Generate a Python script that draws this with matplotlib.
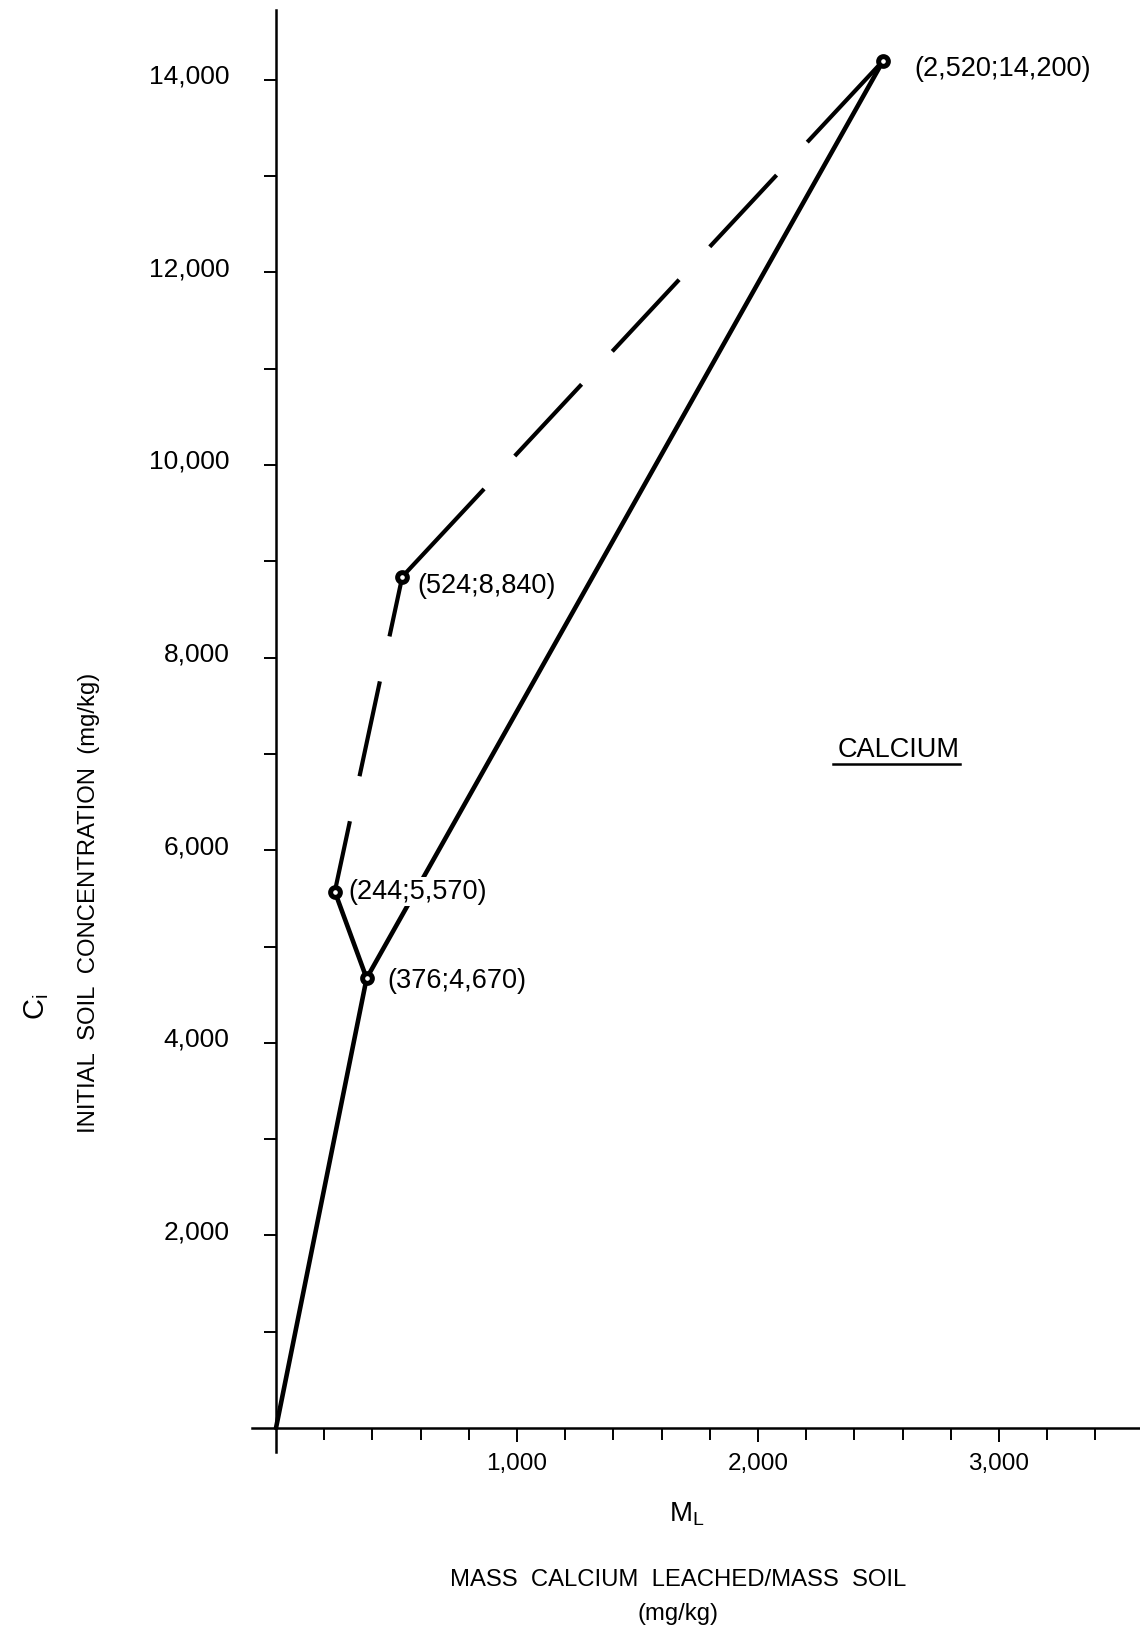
import numpy as np
import matplotlib
matplotlib.use("Agg")
import matplotlib.pyplot as plt
import matplotlib.transforms as mtransforms

# Calcium: mass leached vs. initial soil concentration (mg/kg)
ml = [0, 376, 244, 524, 2520]
ci = [0, 4670, 5570, 8840, 14200]

# index paths through the points above
solid_paths = [[0, 1, 4], [1, 2]]
lower_dash = [2, 3]
upper_dash = [3, 4]
labelled = [4, 3, 2, 1]
label_offsets = {4: (22, -6), 3: (11, -7), 2: (10, 0), 1: (15, -2)}  # points

y_major = [2000, 4000, 6000, 8000, 10000, 12000, 14000]
y_minor = list(range(1000, 14001, 1000))
x_major = [1000, 2000, 3000]
x_minor = list(range(200, 3601, 200))

plt.rcParams['font.family'] = ['Liberation Sans', 'DejaVu Sans']
plt.rcParams['mathtext.fontset'] = 'custom'
plt.rcParams['mathtext.rm'] = 'Liberation Sans'
plt.rcParams['mathtext.it'] = 'Liberation Sans'
plt.rcParams['lines.scale_dashes'] = False

W, H = 1140, 1637
fig = plt.figure(figsize=(W / 100, H / 100), dpi=100)

# axes placed so x=0 sits at 276 px and y=0 at 1428 px from the top
x0_px, y0_px = 276, 1428
xs, ys = 0.241, 0.0963          # px per data unit
xlim = (-100, 3610)
ylim = (-250, 14720)
left = x0_px + xlim[0] * xs
right = x0_px + xlim[1] * xs
bottom = y0_px - ylim[0] * ys
top = y0_px - ylim[1] * ys
ax = fig.add_axes([left / W, 1 - bottom / H, (right - left) / W, (bottom - top) / H])
ax.set_xlim(*xlim)
ax.set_ylim(*ylim)

for s in ['top', 'right']:
    ax.spines[s].set_visible(False)
ax.spines['left'].set_position(('data', 0))
ax.spines['bottom'].set_position(('data', 0))
for s in ['left', 'bottom']:
    ax.spines[s].set_linewidth(1.8)

ax.set_xticks(x_major)
ax.set_xticks(x_minor, minor=True)
ax.set_xticklabels([f"{v:,}" for v in x_major])
ax.set_yticks(y_major)
ax.set_yticks(y_minor, minor=True)
ax.set_yticklabels([f"{v:,}" for v in y_major])
ax.tick_params(axis='x', which='major', direction='out', length=10, width=1.4,
               pad=8, labelsize=17.5)
ax.tick_params(axis='x', which='minor', direction='out', length=8.6, width=1.4)
ax.tick_params(axis='y', which='both', direction='out', length=8.6, width=1.4)
ax.tick_params(axis='y', which='major', pad=25, labelsize=19)

shift = mtransforms.ScaledTranslation(0, 4 / 72, fig.dpi_scale_trans)
for lab in ax.get_yticklabels():
    lab.set_transform(lab.get_transform() + shift)

ml_a = np.array(ml)
ci_a = np.array(ci)

for p in solid_paths:
    ax.plot(ml_a[p], ci_a[p], color='black', lw=3.3, solid_capstyle='round',
            solid_joinstyle='round', zorder=2)

px2pt = 0.72
ax.plot(ml_a[lower_dash], ci_a[lower_dash], color='black', lw=3.0,
        linestyle=(25 * px2pt, (97 * px2pt, 46 * px2pt)), zorder=2)
ax.plot(ml_a[upper_dash], ci_a[upper_dash], color='black', lw=3.0,
        linestyle=(0, [v * px2pt for v in [120, 45, 98, 45, 98, 45, 98, 45, 400, 10]]),
        zorder=2)

ax.plot(ml_a[1:], ci_a[1:], linestyle='none', marker='o', markersize=7,
        markerfacecolor='white', markeredgecolor='black', markeredgewidth=3.6,
        zorder=3)

for i in labelled:
    ax.annotate(f"({ml[i]:,};{ci[i]:,})", (ml[i], ci[i]),
                xytext=label_offsets[i], textcoords='offset points',
                ha='left', va='center', fontsize=19.5, zorder=4,
                bbox=dict(boxstyle='square,pad=0.05', fc='white', ec='none'))

# CALCIUM tag with underline
fig.text(899 / W, 1 - 750 / H, 'CALCIUM', ha='center', va='center', fontsize=19.5)
fig.add_artist(plt.Line2D([833 / W, 960 / W], [1 - 764 / H, 1 - 764 / H],
                          color='black', lw=1.8))

# axis titles
fig.text(37 / W, 1 - 1007 / H, r'$\mathregular{C_i}$', rotation=90,
         ha='center', va='center', fontsize=21)
fig.text(89 / W, 1 - 903 / H, 'INITIAL  SOIL  CONCENTRATION  (mg/kg)',
         rotation=90, ha='center', va='center', fontsize=17.2)
fig.text(687 / W, 1 - 1514 / H, r'$\mathregular{M_L}$',
         ha='center', va='center', fontsize=20)
fig.text(678 / W, 1 - 1580 / H, 'MASS  CALCIUM  LEACHED/MASS  SOIL',
         ha='center', va='center', fontsize=17.2)
fig.text(678 / W, 1 - 1614 / H, '(mg/kg)',
         ha='center', va='center', fontsize=17.2)

fig.savefig('out.png', dpi=100)
